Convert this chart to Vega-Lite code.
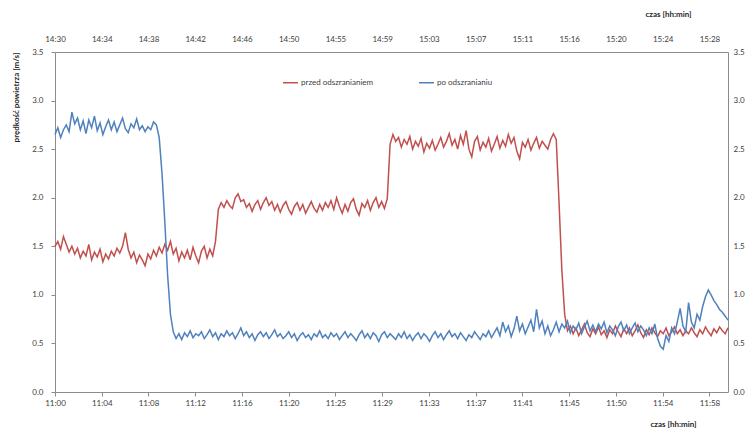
{
  "$schema": "https://vega.github.io/schema/vega-lite/v6.json",
  "width": 673,
  "height": 340,
  "autosize": {"type": "none"},
  "padding": {"left": 55, "top": 52, "right": 23, "bottom": 41},
  "background": "white",
  "config": {
    "view": {"stroke": null},
    "font": "Lato",
    "axis": {"grid": false, "domainColor": "#8c8c8c", "tickColor": "#8c8c8c", "labelColor": "#404040", "titleColor": "#262626", "labelFontSize": 8, "labelOverlap": false, "labelBound": false, "labelFlush": false}
  },
  "data": {
    "values": [
      {"t": 0, "przed": 1.50, "po": 2.65}, {"t": 0.25, "przed": 1.55, "po": 2.72}, {"t": 0.5, "przed": 1.47, "po": 2.62}, {"t": 0.75, "przed": 1.60, "po": 2.70},
      {"t": 1, "przed": 1.52, "po": 2.75}, {"t": 1.25, "przed": 1.44, "po": 2.68}, {"t": 1.5, "przed": 1.50, "po": 2.88}, {"t": 1.75, "przed": 1.42, "po": 2.76},
      {"t": 2, "przed": 1.48, "po": 2.82}, {"t": 2.25, "przed": 1.38, "po": 2.70}, {"t": 2.5, "przed": 1.45, "po": 2.79}, {"t": 2.75, "przed": 1.40, "po": 2.66},
      {"t": 3, "przed": 1.52, "po": 2.80}, {"t": 3.25, "przed": 1.36, "po": 2.72}, {"t": 3.5, "przed": 1.44, "po": 2.84}, {"t": 3.75, "przed": 1.39, "po": 2.69},
      {"t": 4, "przed": 1.47, "po": 2.77}, {"t": 4.25, "przed": 1.34, "po": 2.65}, {"t": 4.5, "przed": 1.42, "po": 2.73}, {"t": 4.75, "przed": 1.37, "po": 2.80},
      {"t": 5, "przed": 1.45, "po": 2.70}, {"t": 5.25, "przed": 1.40, "po": 2.78}, {"t": 5.5, "przed": 1.48, "po": 2.68}, {"t": 5.75, "przed": 1.43, "po": 2.75},
      {"t": 6, "przed": 1.50, "po": 2.82}, {"t": 6.25, "przed": 1.64, "po": 2.71}, {"t": 6.5, "przed": 1.47, "po": 2.67}, {"t": 6.75, "przed": 1.38, "po": 2.76},
      {"t": 7, "przed": 1.44, "po": 2.72}, {"t": 7.25, "przed": 1.33, "po": 2.81}, {"t": 7.5, "przed": 1.41, "po": 2.70}, {"t": 7.75, "przed": 1.36, "po": 2.74},
      {"t": 8, "przed": 1.30, "po": 2.68}, {"t": 8.25, "przed": 1.42, "po": 2.73}, {"t": 8.5, "przed": 1.37, "po": 2.70}, {"t": 8.75, "przed": 1.46, "po": 2.78},
      {"t": 9, "przed": 1.40, "po": 2.75}, {"t": 9.25, "przed": 1.49, "po": 2.62}, {"t": 9.5, "przed": 1.43, "po": 2.25}, {"t": 9.75, "przed": 1.52, "po": 1.75},
      {"t": 10, "przed": 1.46, "po": 1.20}, {"t": 10.25, "przed": 1.55, "po": 0.80}, {"t": 10.5, "przed": 1.42, "po": 0.62}, {"t": 10.75, "przed": 1.48, "po": 0.55},
      {"t": 11, "przed": 1.35, "po": 0.60}, {"t": 11.25, "przed": 1.44, "po": 0.54}, {"t": 11.5, "przed": 1.38, "po": 0.61}, {"t": 11.75, "przed": 1.46, "po": 0.57},
      {"t": 12, "przed": 1.36, "po": 0.63}, {"t": 12.25, "przed": 1.49, "po": 0.56}, {"t": 12.5, "przed": 1.40, "po": 0.60}, {"t": 12.75, "przed": 1.33, "po": 0.58},
      {"t": 13, "przed": 1.45, "po": 0.62}, {"t": 13.25, "przed": 1.50, "po": 0.55}, {"t": 13.5, "przed": 1.38, "po": 0.59}, {"t": 13.75, "przed": 1.47, "po": 0.64},
      {"t": 14, "przed": 1.40, "po": 0.57}, {"t": 14.25, "przed": 1.55, "po": 0.61}, {"t": 14.5, "przed": 1.88, "po": 0.54}, {"t": 14.75, "przed": 1.95, "po": 0.60},
      {"t": 15, "przed": 1.90, "po": 0.57}, {"t": 15.25, "przed": 1.97, "po": 0.63}, {"t": 15.5, "przed": 1.92, "po": 0.58}, {"t": 15.75, "przed": 1.89, "po": 0.61},
      {"t": 16, "przed": 2.00, "po": 0.55}, {"t": 16.25, "przed": 2.04, "po": 0.60}, {"t": 16.5, "przed": 1.96, "po": 0.66}, {"t": 16.75, "przed": 1.98, "po": 0.58},
      {"t": 17, "przed": 1.90, "po": 0.62}, {"t": 17.25, "przed": 1.94, "po": 0.56}, {"t": 17.5, "przed": 1.86, "po": 0.60}, {"t": 17.75, "przed": 1.93, "po": 0.53},
      {"t": 18, "przed": 1.97, "po": 0.59}, {"t": 18.25, "przed": 1.88, "po": 0.62}, {"t": 18.5, "przed": 1.95, "po": 0.57}, {"t": 18.75, "przed": 2.00, "po": 0.61},
      {"t": 19, "przed": 1.92, "po": 0.55}, {"t": 19.25, "przed": 1.96, "po": 0.59}, {"t": 19.5, "przed": 1.87, "po": 0.64}, {"t": 19.75, "przed": 1.93, "po": 0.57},
      {"t": 20, "przed": 1.85, "po": 0.60}, {"t": 20.25, "przed": 1.92, "po": 0.55}, {"t": 20.5, "przed": 1.96, "po": 0.58}, {"t": 20.75, "przed": 1.88, "po": 0.62},
      {"t": 21, "przed": 1.83, "po": 0.56}, {"t": 21.25, "przed": 1.91, "po": 0.60}, {"t": 21.5, "przed": 1.95, "po": 0.53}, {"t": 21.75, "przed": 1.87, "po": 0.58},
      {"t": 22, "przed": 1.93, "po": 0.61}, {"t": 22.25, "przed": 1.84, "po": 0.56}, {"t": 22.5, "przed": 1.90, "po": 0.59}, {"t": 22.75, "przed": 1.96, "po": 0.54},
      {"t": 23, "przed": 1.89, "po": 0.60}, {"t": 23.25, "przed": 1.85, "po": 0.57}, {"t": 23.5, "przed": 1.93, "po": 0.63}, {"t": 23.75, "przed": 1.87, "po": 0.56},
      {"t": 24, "przed": 1.95, "po": 0.59}, {"t": 24.25, "przed": 1.90, "po": 0.55}, {"t": 24.5, "przed": 1.97, "po": 0.61}, {"t": 24.75, "przed": 1.88, "po": 0.57},
      {"t": 25, "przed": 2.00, "po": 0.60}, {"t": 25.25, "przed": 1.91, "po": 0.54}, {"t": 25.5, "przed": 1.84, "po": 0.58}, {"t": 25.75, "przed": 1.93, "po": 0.62},
      {"t": 26, "przed": 1.86, "po": 0.56}, {"t": 26.25, "przed": 1.95, "po": 0.60}, {"t": 26.5, "przed": 1.99, "po": 0.57}, {"t": 26.75, "przed": 1.88, "po": 0.53},
      {"t": 27, "przed": 1.82, "po": 0.59}, {"t": 27.25, "przed": 1.94, "po": 0.63}, {"t": 27.5, "przed": 1.90, "po": 0.56}, {"t": 27.75, "przed": 1.97, "po": 0.60},
      {"t": 28, "przed": 1.87, "po": 0.55}, {"t": 28.25, "przed": 1.95, "po": 0.61}, {"t": 28.5, "przed": 2.00, "po": 0.58}, {"t": 28.75, "przed": 1.90, "po": 0.52},
      {"t": 29, "przed": 1.96, "po": 0.59}, {"t": 29.25, "przed": 1.89, "po": 0.62}, {"t": 29.5, "przed": 1.99, "po": 0.56}, {"t": 29.75, "przed": 2.55, "po": 0.60},
      {"t": 30, "przed": 2.65, "po": 0.57}, {"t": 30.25, "przed": 2.58, "po": 0.54}, {"t": 30.5, "przed": 2.62, "po": 0.60}, {"t": 30.75, "przed": 2.52, "po": 0.56},
      {"t": 31, "przed": 2.60, "po": 0.62}, {"t": 31.25, "przed": 2.55, "po": 0.55}, {"t": 31.5, "przed": 2.63, "po": 0.59}, {"t": 31.75, "przed": 2.50, "po": 0.53},
      {"t": 32, "przed": 2.58, "po": 0.58}, {"t": 32.25, "przed": 2.53, "po": 0.61}, {"t": 32.5, "przed": 2.61, "po": 0.55}, {"t": 32.75, "przed": 2.47, "po": 0.60},
      {"t": 33, "przed": 2.56, "po": 0.57}, {"t": 33.25, "przed": 2.51, "po": 0.52}, {"t": 33.5, "przed": 2.59, "po": 0.58}, {"t": 33.75, "przed": 2.49, "po": 0.62},
      {"t": 34, "przed": 2.55, "po": 0.56}, {"t": 34.25, "przed": 2.62, "po": 0.60}, {"t": 34.5, "przed": 2.52, "po": 0.54}, {"t": 34.75, "przed": 2.58, "po": 0.59},
      {"t": 35, "przed": 2.66, "po": 0.63}, {"t": 35.25, "przed": 2.54, "po": 0.57}, {"t": 35.5, "przed": 2.60, "po": 0.60}, {"t": 35.75, "przed": 2.50, "po": 0.55},
      {"t": 36, "przed": 2.64, "po": 0.61}, {"t": 36.25, "przed": 2.55, "po": 0.57}, {"t": 36.5, "przed": 2.69, "po": 0.53}, {"t": 36.75, "przed": 2.50, "po": 0.59},
      {"t": 37, "przed": 2.42, "po": 0.56}, {"t": 37.25, "przed": 2.58, "po": 0.62}, {"t": 37.5, "przed": 2.63, "po": 0.58}, {"t": 37.75, "przed": 2.49, "po": 0.54},
      {"t": 38, "przed": 2.57, "po": 0.60}, {"t": 38.25, "przed": 2.52, "po": 0.57}, {"t": 38.5, "przed": 2.61, "po": 0.63}, {"t": 38.75, "przed": 2.48, "po": 0.56},
      {"t": 39, "przed": 2.55, "po": 0.61}, {"t": 39.25, "przed": 2.63, "po": 0.66}, {"t": 39.5, "przed": 2.51, "po": 0.58}, {"t": 39.75, "przed": 2.59, "po": 0.72},
      {"t": 40, "przed": 2.53, "po": 0.62}, {"t": 40.25, "przed": 2.65, "po": 0.68}, {"t": 40.5, "przed": 2.56, "po": 0.57}, {"t": 40.75, "przed": 2.62, "po": 0.65},
      {"t": 41, "przed": 2.48, "po": 0.78}, {"t": 41.25, "przed": 2.40, "po": 0.63}, {"t": 41.5, "przed": 2.57, "po": 0.70}, {"t": 41.75, "przed": 2.52, "po": 0.60},
      {"t": 42, "przed": 2.60, "po": 0.67}, {"t": 42.25, "przed": 2.49, "po": 0.74}, {"t": 42.5, "przed": 2.56, "po": 0.62}, {"t": 42.75, "przed": 2.62, "po": 0.85},
      {"t": 43, "przed": 2.51, "po": 0.66}, {"t": 43.25, "przed": 2.58, "po": 0.73}, {"t": 43.5, "przed": 2.54, "po": 0.60}, {"t": 43.75, "przed": 2.50, "po": 0.68},
      {"t": 44, "przed": 2.60, "po": 0.58}, {"t": 44.25, "przed": 2.66, "po": 0.64}, {"t": 44.5, "przed": 2.60, "po": 0.72}, {"t": 44.75, "przed": 1.95, "po": 0.62},
      {"t": 45, "przed": 1.25, "po": 0.70}, {"t": 45.25, "przed": 0.80, "po": 0.66}, {"t": 45.5, "przed": 0.63, "po": 0.73}, {"t": 45.75, "przed": 0.68, "po": 0.61},
      {"t": 46, "przed": 0.60, "po": 0.68}, {"t": 46.25, "przed": 0.66, "po": 0.64}, {"t": 46.5, "przed": 0.58, "po": 0.71}, {"t": 46.75, "przed": 0.64, "po": 0.60},
      {"t": 47, "przed": 0.70, "po": 0.67}, {"t": 47.25, "przed": 0.61, "po": 0.73}, {"t": 47.5, "przed": 0.57, "po": 0.63}, {"t": 47.75, "przed": 0.65, "po": 0.69},
      {"t": 48, "przed": 0.60, "po": 0.62}, {"t": 48.25, "przed": 0.67, "po": 0.70}, {"t": 48.5, "przed": 0.59, "po": 0.65}, {"t": 48.75, "przed": 0.63, "po": 0.72},
      {"t": 49, "przed": 0.56, "po": 0.61}, {"t": 49.25, "przed": 0.64, "po": 0.68}, {"t": 49.5, "przed": 0.60, "po": 0.64}, {"t": 49.75, "przed": 0.68, "po": 0.58},
      {"t": 50, "przed": 0.62, "po": 0.67}, {"t": 50.25, "przed": 0.57, "po": 0.72}, {"t": 50.5, "przed": 0.65, "po": 0.63}, {"t": 50.75, "przed": 0.60, "po": 0.69},
      {"t": 51, "przed": 0.66, "po": 0.60}, {"t": 51.25, "przed": 0.58, "po": 0.66}, {"t": 51.5, "przed": 0.63, "po": 0.71}, {"t": 51.75, "przed": 0.69, "po": 0.62},
      {"t": 52, "przed": 0.61, "po": 0.68}, {"t": 52.25, "przed": 0.56, "po": 0.64}, {"t": 52.5, "przed": 0.64, "po": 0.58}, {"t": 52.75, "przed": 0.59, "po": 0.66},
      {"t": 53, "przed": 0.66, "po": 0.60}, {"t": 53.25, "przed": 0.61, "po": 0.70}, {"t": 53.5, "przed": 0.57, "po": 0.55}, {"t": 53.75, "przed": 0.63, "po": 0.47},
      {"t": 54, "przed": 0.60, "po": 0.44}, {"t": 54.25, "przed": 0.66, "po": 0.58}, {"t": 54.5, "przed": 0.58, "po": 0.52}, {"t": 54.75, "przed": 0.62, "po": 0.66},
      {"t": 55, "przed": 0.67, "po": 0.60}, {"t": 55.25, "przed": 0.60, "po": 0.72}, {"t": 55.5, "przed": 0.64, "po": 0.86}, {"t": 55.75, "przed": 0.58, "po": 0.68},
      {"t": 56, "przed": 0.63, "po": 0.62}, {"t": 56.25, "przed": 0.60, "po": 0.92}, {"t": 56.5, "przed": 0.66, "po": 0.72}, {"t": 56.75, "przed": 0.61, "po": 0.66},
      {"t": 57, "przed": 0.57, "po": 0.80}, {"t": 57.25, "przed": 0.64, "po": 0.74}, {"t": 57.5, "przed": 0.60, "po": 0.88}, {"t": 57.75, "przed": 0.67, "po": 0.98},
      {"t": 58, "przed": 0.62, "po": 1.05}, {"t": 58.25, "przed": 0.58, "po": 1.00}, {"t": 58.5, "przed": 0.65, "po": 0.94}, {"t": 58.75, "przed": 0.61, "po": 0.90},
      {"t": 59, "przed": 0.67, "po": 0.85}, {"t": 59.25, "przed": 0.63, "po": 0.82}, {"t": 59.5, "przed": 0.60, "po": 0.78}, {"t": 59.75, "przed": 0.66, "po": 0.74}
    ]
  },
  "transform": [{"fold": ["przed", "po"], "as": ["seria", "v"]}],
  "layer": [
    {
      "mark": {"type": "line", "strokeWidth": 1.5, "interpolate": "linear"},
      "encoding": {
        "x": {
          "field": "t", "type": "quantitative",
          "scale": {"domain": [0, 59.75], "nice": false, "zero": false},
          "axis": {
            "orient": "bottom",
            "values": [0, 4.15, 8.3, 12.45, 16.6, 20.75, 24.9, 29.05, 33.2, 37.35, 41.5, 45.65, 49.8, 53.95, 58.1],
            "labelExpr": "['11:00','11:04','11:08','11:12','11:16','11:20','11:25','11:29','11:33','11:37','11:41','11:45','11:50','11:54','11:58'][round(datum.value / 4.15)]",
            "tickSize": 4,
            "labelPadding": 3,
            "title": "czas [hh:min]",
            "titleFontSize": 8,
            "titleFontWeight": "bold",
            "titleX": 618,
            "titleY": 32,
            "titleAlign": "center",
            "titleBaseline": "middle"
          }
        },
        "y": {
          "field": "v", "type": "quantitative",
          "scale": {"domain": [0, 3.5], "nice": false},
          "axis": {
            "orient": "left",
            "values": [0, 0.5, 1, 1.5, 2, 2.5, 3, 3.5],
            "format": ".1f",
            "tickSize": 4,
            "labelPadding": 8,
            "title": "prędkość powietrza [m/s]",
            "titleFontSize": 8,
            "titleFontWeight": "bold",
            "titleX": -39,
            "titleY": 45,
            "titleAlign": "center",
            "titleBaseline": "middle"
          }
        },
        "color": {
          "field": "seria", "type": "nominal",
          "scale": {"domain": ["przed", "po"], "range": ["#c0504d", "#4f81bd"]},
          "legend": {
            "orient": "none",
            "legendX": 227,
            "legendY": 22,
            "direction": "horizontal",
            "title": null,
            "symbolType": "stroke",
            "symbolSize": 225,
            "symbolStrokeWidth": 1.5,
            "labelFontSize": 8,
            "labelColor": "#404040",
            "labelOffset": 2,
            "columnPadding": 42,
            "labelExpr": "datum.label == 'przed' ? 'przed odszranianiem' : 'po odszranianiu'"
          }
        }
      }
    },
    {
      "mark": {"type": "line", "opacity": 0},
      "encoding": {
        "x": {
          "field": "t", "type": "quantitative",
          "axis": {
            "orient": "top",
            "values": [0, 4.15, 8.3, 12.45, 16.6, 20.75, 24.9, 29.05, 33.2, 37.35, 41.5, 45.65, 49.8, 53.95, 58.1],
            "labelExpr": "['14:30','14:34','14:38','14:42','14:46','14:50','14:55','14:59','15:03','15:07','15:11','15:16','15:20','15:24','15:28'][round(datum.value / 4.15)]",
            "ticks": false,
            "labelPadding": 9,
            "title": "czas [hh:min]",
            "titleFontSize": 8,
            "titleFontWeight": "bold",
            "titleX": 613,
            "titleY": -38,
            "titleAlign": "center",
            "titleBaseline": "middle"
          }
        },
        "y": {
          "field": "v", "type": "quantitative",
          "axis": {
            "orient": "right",
            "values": [0, 0.5, 1, 1.5, 2, 2.5, 3, 3.5],
            "format": ".1f",
            "ticks": false,
            "labelPadding": 5,
            "title": null
          }
        },
        "detail": {"field": "seria", "type": "nominal"}
      }
    }
  ],
  "resolve": {"axis": {"x": "independent", "y": "independent"}}
}
